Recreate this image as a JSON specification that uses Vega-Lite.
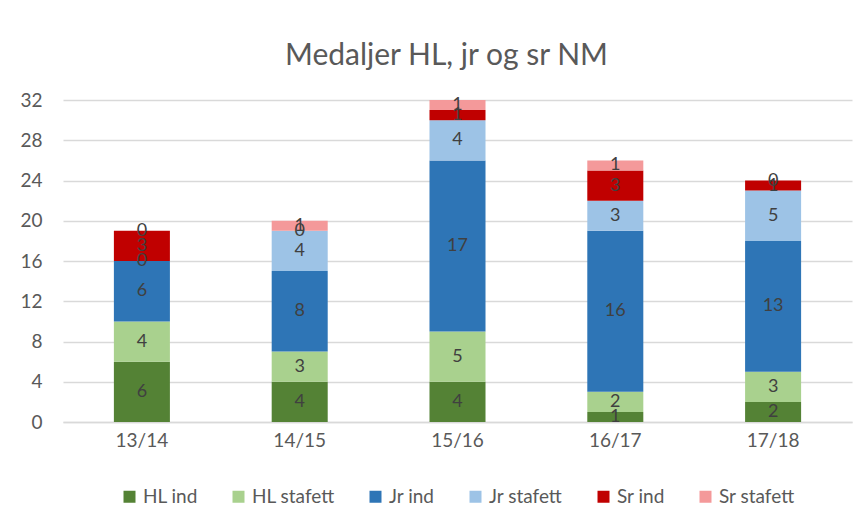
{
  "$schema": "https://vega.github.io/schema/vega-lite/v6.json",
  "autosize": {"type": "none"},
  "width": 789,
  "height": 322,
  "padding": {"left": 63, "top": 100, "right": 12, "bottom": 103},
  "background": "white",
  "title": {
    "text": "Medaljer HL, jr og sr NM",
    "font": "Lato",
    "fontSize": 30,
    "fontWeight": "normal",
    "color": "#595959",
    "anchor": "middle",
    "dx": -11,
    "offset": 20
  },
  "data": {
    "values": [
      {"season": "13/14", "series": "HL ind", "order": 1, "value": 6},
      {"season": "13/14", "series": "HL stafett", "order": 2, "value": 4},
      {"season": "13/14", "series": "Jr ind", "order": 3, "value": 6},
      {"season": "13/14", "series": "Jr stafett", "order": 4, "value": 0},
      {"season": "13/14", "series": "Sr ind", "order": 5, "value": 3},
      {"season": "13/14", "series": "Sr stafett", "order": 6, "value": 0},
      {"season": "14/15", "series": "HL ind", "order": 1, "value": 4},
      {"season": "14/15", "series": "HL stafett", "order": 2, "value": 3},
      {"season": "14/15", "series": "Jr ind", "order": 3, "value": 8},
      {"season": "14/15", "series": "Jr stafett", "order": 4, "value": 4},
      {"season": "14/15", "series": "Sr ind", "order": 5, "value": 0},
      {"season": "14/15", "series": "Sr stafett", "order": 6, "value": 1},
      {"season": "15/16", "series": "HL ind", "order": 1, "value": 4},
      {"season": "15/16", "series": "HL stafett", "order": 2, "value": 5},
      {"season": "15/16", "series": "Jr ind", "order": 3, "value": 17},
      {"season": "15/16", "series": "Jr stafett", "order": 4, "value": 4},
      {"season": "15/16", "series": "Sr ind", "order": 5, "value": 1},
      {"season": "15/16", "series": "Sr stafett", "order": 6, "value": 1},
      {"season": "16/17", "series": "HL ind", "order": 1, "value": 1},
      {"season": "16/17", "series": "HL stafett", "order": 2, "value": 2},
      {"season": "16/17", "series": "Jr ind", "order": 3, "value": 16},
      {"season": "16/17", "series": "Jr stafett", "order": 4, "value": 3},
      {"season": "16/17", "series": "Sr ind", "order": 5, "value": 3},
      {"season": "16/17", "series": "Sr stafett", "order": 6, "value": 1},
      {"season": "17/18", "series": "HL ind", "order": 1, "value": 2},
      {"season": "17/18", "series": "HL stafett", "order": 2, "value": 3},
      {"season": "17/18", "series": "Jr ind", "order": 3, "value": 13},
      {"season": "17/18", "series": "Jr stafett", "order": 4, "value": 5},
      {"season": "17/18", "series": "Sr ind", "order": 5, "value": 1},
      {"season": "17/18", "series": "Sr stafett", "order": 6, "value": 0}
    ]
  },
  "transform": [
    {"stack": "value", "groupby": ["season"], "sort": [{"field": "order", "order": "ascending"}], "as": ["y0", "y1"]},
    {"calculate": "(datum.y0 + datum.y1) / 2", "as": "ymid"}
  ],
  "encoding": {
    "x": {
      "field": "season",
      "type": "nominal",
      "sort": null,
      "scale": {"paddingInner": 0.645, "paddingOuter": 0.3225},
      "axis": {
        "title": null,
        "labelAngle": 0,
        "labelFont": "Lato",
        "labelFontSize": 19,
        "labelColor": "#595959",
        "labelPadding": 9,
        "ticks": false,
        "domainColor": "#D9D9D9",
        "domainWidth": 1.5
      }
    }
  },
  "layer": [
    {
      "mark": {"type": "bar"},
      "encoding": {
        "y": {
          "field": "y0",
          "type": "quantitative",
          "scale": {"domain": [0, 32], "nice": false, "zero": true},
          "axis": {
            "title": null,
            "values": [0, 4, 8, 12, 16, 20, 24, 28, 32],
            "domain": false,
            "ticks": false,
            "gridColor": "#D9D9D9",
            "gridWidth": 1.5,
            "labelFont": "Lato",
            "labelFontSize": 19,
            "labelColor": "#595959",
            "labelPadding": 21
          }
        },
        "y2": {"field": "y1"},
        "color": {
          "field": "series",
          "type": "nominal",
          "sort": ["HL ind", "HL stafett", "Jr ind", "Jr stafett", "Sr ind", "Sr stafett"],
          "scale": {
            "domain": ["HL ind", "HL stafett", "Jr ind", "Jr stafett", "Sr ind", "Sr stafett"],
            "range": ["#548235", "#A9D18E", "#2E75B6", "#9DC3E6", "#C00000", "#F4999A"]
          },
          "legend": {
            "title": null,
            "orient": "none",
            "legendX": 57,
            "legendY": 387,
            "direction": "horizontal",
            "columns": 6,
            "symbolType": "square",
            "symbolSize": 144,
            "symbolStrokeWidth": 0,
            "symbolOpacity": 1,
            "labelFont": "Lato",
            "labelFontSize": 19,
            "labelColor": "#595959",
            "labelOffset": 4,
            "columnPadding": 31
          }
        }
      }
    },
    {
      "mark": {"type": "text", "font": "Lato", "fontSize": 18, "color": "#404040", "baseline": "middle"},
      "encoding": {
        "y": {"field": "ymid", "type": "quantitative", "scale": {"domain": [0, 32], "nice": false, "zero": true}},
        "text": {"field": "value", "type": "quantitative"}
      }
    }
  ],
  "config": {
    "view": {"stroke": null}
  }
}
